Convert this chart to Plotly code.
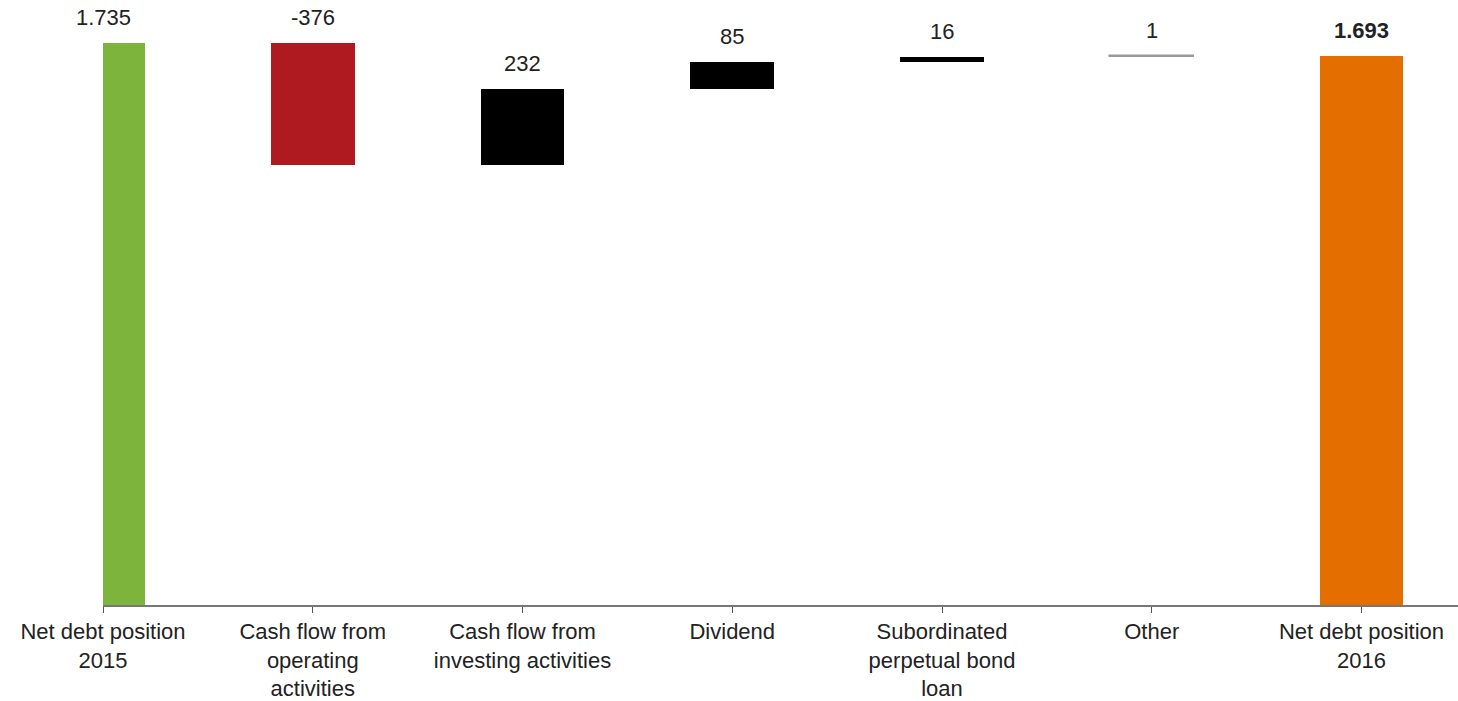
import plotly.graph_objects as go

categories = ["Net debt position<br>2015", "Cash flow from<br>operating<br>activities",
              "Cash flow from<br>investing activities", "Dividend",
              "Subordinated<br>perpetual bond<br>loan", "Other", "Net debt position<br>2016"]
values = [1735, -376, 232, 85, 16, 1, 1693]
value_labels = ["1.735", "-376", "232", "85", "16", "1", "<b>1.693</b>"]
is_total = [True, False, False, False, False, False, True]
colors = ["#7DB43C", "#AF1920", "#000000", "#000000", "#000000", "#9A9A9A", "#E56E00"]

# compute bases / heights for a waterfall
bases, heights = [], []
running = 0
for v, tot in zip(values, is_total):
    if tot:
        bases.append(0)
        heights.append(v)
        running = v
    else:
        new = running + v
        bases.append(min(running, new))
        heights.append(abs(v))
        running = new

xpos = list(range(len(categories)))

fig = go.Figure()
fig.add_trace(go.Bar(
    x=xpos, y=heights, base=bases, width=0.4,
    marker=dict(color=colors,
                line=dict(color=colors, width=[0, 0, 0, 0, 0, 1.5, 0])),
    hoverinfo="skip", showlegend=False,
))

for x, b, h, t in zip(xpos, bases, heights, value_labels):
    fig.add_annotation(x=x, y=b + h, text=t, showarrow=False,
                       yanchor="bottom", yshift=11,
                       font=dict(family="Liberation Sans, Arial", size=22, color="#222222"))

fig.update_layout(
    width=1458, height=701,
    margin=dict(l=103, r=0, t=0, b=94),
    plot_bgcolor="white", paper_bgcolor="white",
    font=dict(family="Liberation Sans, Arial", size=22, color="#222222"),
    xaxis=dict(range=[0, 6.46], tickmode="array", tickvals=xpos, ticktext=categories,
               showline=True, linecolor="#777777", linewidth=1.5,
               ticks="outside", ticklen=6, tickcolor="#555555", tickwidth=1,
               showgrid=False, zeroline=False, tickangle=0,
               tickfont=dict(size=22, color="#222222")),
    yaxis=dict(visible=False, range=[0, 1867], showgrid=False, zeroline=False),
    bargap=0,
)

fig.write_html("out.html")
